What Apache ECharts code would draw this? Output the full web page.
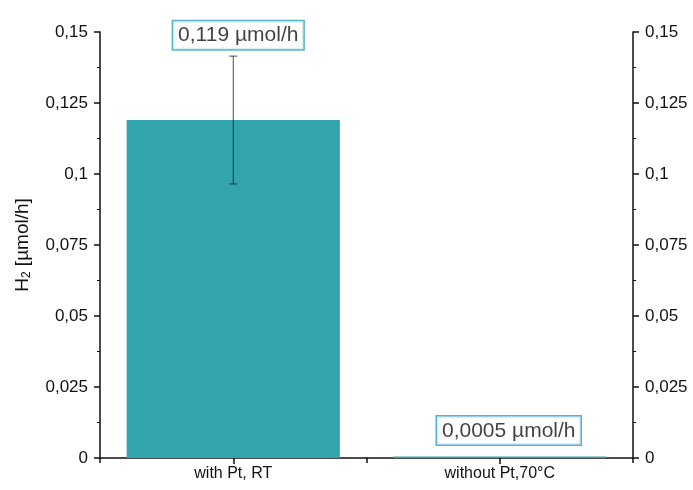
<!DOCTYPE html>
<html>
<head>
<meta charset="utf-8">
<script src="https://cdn.jsdelivr.net/npm/echarts@6/dist/echarts.min.js"></script>
<style>
  html, body { margin: 0; padding: 0; background: #fff; }
  #chart { width: 693px; height: 490px; }
</style>
</head>
<body>
<div id="chart"></div>
<script>
// H2 evolution rate per condition
const categories = ['with Pt, RT', 'without Pt,70°C'];
const h2Rate = [0.119, 0.0005];
const h2Error = [0.0225, 0];
const labelBorders = ['#2ea3ab', '#2a9bd8'];
const yMin = 0;
const yMax = 0.15;
const yStep = 0.025;

const BAR_COLOR = '#31a4ad';
const FONT = 'Liberation Sans, Arial, sans-serif';

const fmt = v => String(+v.toFixed(4)).replace('.', ',');

const chart = echarts.init(document.getElementById('chart'), null, { renderer: 'canvas' });

const yAxisCommon = {
  type: 'value',
  min: yMin,
  max: yMax,
  interval: yStep,
  splitLine: { show: false },
  axisLine: { show: true, lineStyle: { color: '#111', width: 1.5 } },
  axisTick: { show: true, inside: false, length: 6, lineStyle: { color: '#111', width: 1.5 } },
  minorTick: { show: true, splitNumber: 2, length: 3, lineStyle: { color: '#111', width: 1 } },
  axisLabel: { color: '#111', fontSize: 17, fontFamily: FONT, margin: 12, formatter: fmt }
};

const option = {
  animation: false,
  grid: { left: 100, right: 60, top: 32, bottom: 32 },
  xAxis: [
    {
      type: 'category',
      position: 'bottom',
      data: categories,
      axisLine: { lineStyle: { color: '#111', width: 1.5 } },
      axisTick: { show: true, alignWithLabel: false, interval: 0, length: 5, lineStyle: { color: '#111', width: 1.5 } },
      axisLabel: { color: '#111', fontSize: 16, fontFamily: FONT, margin: 8 }
    },
    {
      type: 'category',
      position: 'bottom',
      data: categories,
      axisLine: { show: false },
      axisTick: { show: true, alignWithLabel: true, interval: 0, length: 6, lineStyle: { color: '#111', width: 1.5 } },
      axisLabel: { show: false }
    }
  ],
  yAxis: [
    Object.assign({}, yAxisCommon, {
      position: 'left',
      name: '{n|H}{s|2}{n| [µmol/h]}',
      nameLocation: 'middle',
      nameGap: 67,
      nameRotate: 90,
      nameTextStyle: {
        rich: {
          n: { fontSize: 19, fontFamily: FONT, color: '#111' },
          s: { fontSize: 12, fontFamily: FONT, color: '#111', verticalAlign: 'bottom', padding: [9, 0, 0, 0] }
        }
      }
    }),
    Object.assign({}, yAxisCommon, { position: 'right' })
  ],
  series: [
    {
      type: 'bar',
      xAxisIndex: 0,
      yAxisIndex: 0,
      data: h2Rate,
      barWidth: '80%',
      itemStyle: { color: BAR_COLOR },
      z: 2
    },
    {
      // error bars: vertical line with caps
      type: 'custom',
      xAxisIndex: 0,
      yAxisIndex: 0,
      data: categories.map((c, i) => [i, h2Rate[i] - h2Error[i], h2Rate[i] + h2Error[i]]),
      renderItem: function (params, api) {
        const lo = api.coord([api.value(0), api.value(1)]);
        const hi = api.coord([api.value(0), api.value(2)]);
        if (Math.abs(hi[1] - lo[1]) < 1) return null;
        const cap = 4;
        const style = { stroke: 'rgba(30,30,30,0.8)', lineWidth: 1 };
        return {
          type: 'group',
          children: [
            { type: 'line', shape: { x1: hi[0], y1: hi[1], x2: lo[0], y2: lo[1] }, style: style },
            { type: 'line', shape: { x1: hi[0] - cap, y1: hi[1], x2: hi[0] + cap, y2: hi[1] }, style: style },
            { type: 'line', shape: { x1: lo[0] - cap, y1: lo[1], x2: lo[0] + cap, y2: lo[1] }, style: style }
          ]
        };
      },
      z: 3
    },
    {
      // value labels sitting above each bar's error bar
      type: 'scatter',
      xAxisIndex: 0,
      yAxisIndex: 0,
      symbolSize: 0,
      data: categories.map((c, i) => ({
        value: [i, h2Rate[i] + h2Error[i]],
        label: {
          borderColor: labelBorders[i],
          distance: i === 0 ? 7 : 12,
          offset: i === 0 ? [5, 0] : [9, 0]
        }
      })),
      label: {
        show: true,
        position: 'top',
        formatter: p => fmt(h2Rate[p.dataIndex]) + ' µmol/h',
        fontSize: 21,
        fontFamily: FONT,
        color: '#111',
        backgroundColor: '#fff',
        borderWidth: 1.5,
        padding: [4, 5, 3, 5]
      },
      z: 5
    }
  ]
};

chart.setOption(option);
</script>
</body>
</html>
